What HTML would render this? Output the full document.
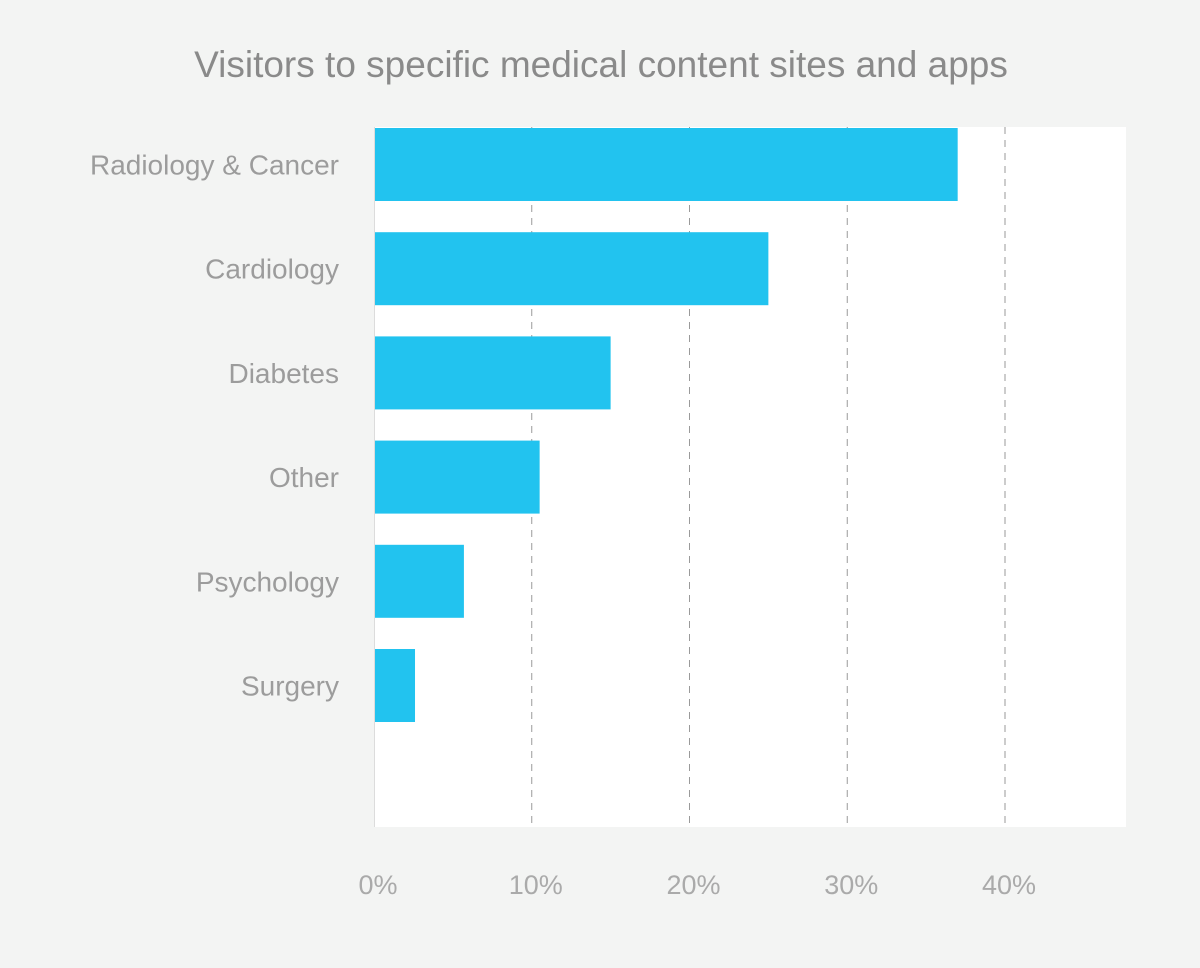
<!DOCTYPE html>
<html><head><meta charset="utf-8"><style>
html,body{margin:0;padding:0;background:#f3f4f3;}
body{width:1200px;height:963px;overflow:hidden;font-family:"Liberation Sans",Arial,sans-serif;}
</style></head><body>
<svg id="chart" width="1200" height="963" xmlns="http://www.w3.org/2000/svg">
<rect width="1200" height="963" fill="#f3f4f3"/>
<text x="601" y="77" text-anchor="middle" font-size="37" fill="#8a8a8a" font-family="Liberation Sans, Arial, sans-serif">Visitors to specific medical content sites and apps</text>
<rect x="374" y="127" width="752" height="700" fill="#ffffff"/>
<g id="grid"></g>
<g id="bars"></g>
<g id="ylabels"></g>
<g id="xlabels"></g>
<line x1="374.5" y1="127" x2="374.5" y2="827" stroke="#dcdcdc" stroke-width="1"/>
</svg>
<script>
const categories = ["Radiology & Cancer","Cardiology","Diabetes","Other","Psychology","Surgery"];
const values = [37, 25, 15, 10.5, 5.7, 2.6];
const ticks = [0, 10, 20, 30, 40];
const tickLabels = ["0%","10%","20%","30%","40%"];
const NS = "http://www.w3.org/2000/svg";
const x0 = 374, pxPer = 15.775;
const xScale = v => x0 + v * pxPer;
const bandTop = 128, bandStep = 104.2, barH = 73;
const yScale = i => bandTop + i * bandStep;
const grid = document.getElementById('grid');
const bars = document.getElementById('bars');
const yl = document.getElementById('ylabels');
const xl = document.getElementById('xlabels');
ticks.forEach((t, i) => {
  if (t > 0) {
    const l = document.createElementNS(NS, 'line');
    
    
    l.setAttribute('x1', xScale(t)); l.setAttribute('x2', xScale(t));
    l.setAttribute('y1', 127); l.setAttribute('y2', 827);
    l.setAttribute('stroke', '#9a9a9a'); l.setAttribute('stroke-dasharray', '7,6');
    grid.appendChild(l);
  }
  const tx = document.createElementNS(NS, 'text');
  
  
  tx.setAttribute('x', xScale(t) + 4); tx.setAttribute('y', 894);
  tx.setAttribute('text-anchor', 'middle'); tx.setAttribute('font-size', '27');
  tx.setAttribute('fill', '#aaaaaa');
  tx.textContent = tickLabels[i];
  xl.appendChild(tx);
});
categories.forEach((c, i) => {
  const r = document.createElementNS(NS, 'rect');
  
  
  r.setAttribute('x', x0); r.setAttribute('y', yScale(i));
  r.setAttribute('width', xScale(values[i]) - x0); r.setAttribute('height', barH);
  r.setAttribute('fill', '#22c3ef');
  bars.appendChild(r);
  const t = document.createElementNS(NS, 'text');
  
  
  t.setAttribute('x', 339); t.setAttribute('y', yScale(i) + barH / 2 + 10);
  t.setAttribute('text-anchor', 'end'); t.setAttribute('font-size', '28');
  t.setAttribute('fill', '#9c9c9c');
  t.textContent = c;
  yl.appendChild(t);
});
</script>
</body></html>
